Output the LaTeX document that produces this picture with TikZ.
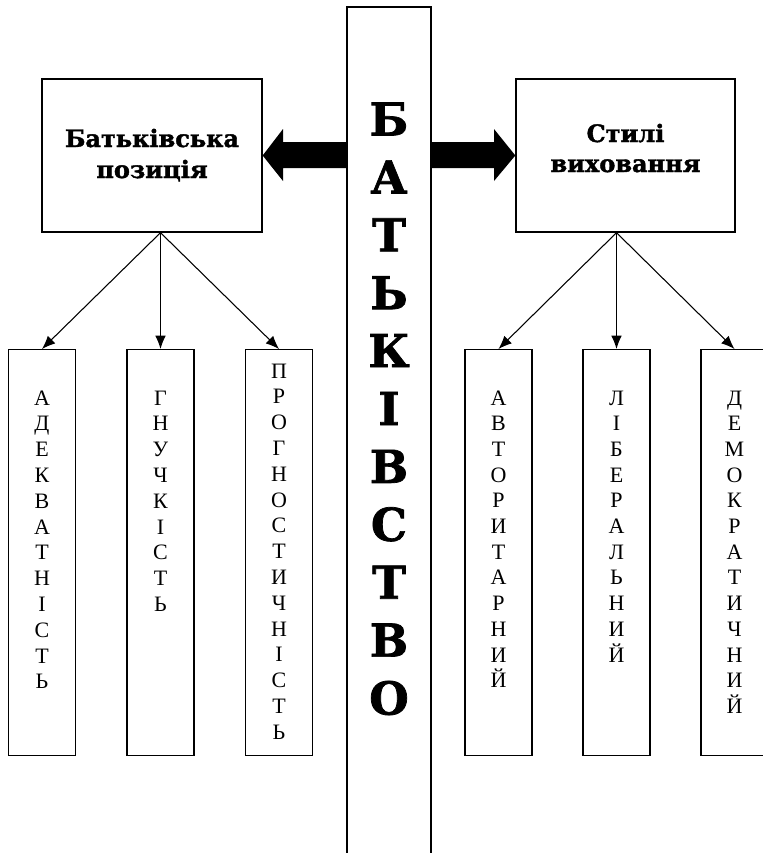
\documentclass[tikz,border=0pt]{standalone}
\usepackage{fontspec}
\setmainfont{Liberation Serif}
\newfontfamily\heavy{DejaVu Serif Bold}[FakeBold=1.6]
\usetikzlibrary{arrows.meta,calc}
\tikzset{
  frame/.style={draw=black,line width=1pt,fill=none},
  letter/.style={font=\fontsize{16.5}{16.5}\selectfont,inner sep=0pt,anchor=base},
  bigletter/.style={font=\heavy\fontsize{34}{34}\selectfont,inner sep=0pt},
  headtext/.style={font=\heavy\fontsize{18}{18}\selectfont,inner sep=0pt,anchor=base},
  branch/.style={line width=0.8pt,-{Latex[length=10pt,width=8pt]}},
  fat/.style={fill=black,draw=none}
}
\begin{document}
\begin{tikzpicture}[x=0.75pt,y=-0.75pt]
\clip (0,0) rectangle (763,853);
\fill[white] (0,0) rectangle (763,853);
% central column
\coordinate (cTL) at (347,7);
\coordinate (cBR) at (431,870);
\draw[frame] (cTL) rectangle (cBR);
\foreach \ch [count=\i from 0] in {Б,А,Т,Ь,К,І,В,С,Т,В,О}{
  \node[bigletter] (c\i) at (389,{119+57.9*\i}) {\ch};
}
% top boxes
\node[frame,minimum width=220*0.75pt,minimum height=153*0.75pt,inner sep=0pt] (L) at (152,155.5) {};
\node[frame,minimum width=219*0.75pt,minimum height=153*0.75pt,inner sep=0pt] (R) at (625.5,155.5) {};
\node[headtext] (Lt1) at (152,147) {Батьківська};
\node[headtext] (Lt2) at (152,178) {позиція};
\node[headtext] (Rt1) at (625.5,142) {Стилі};
\node[headtext] (Rt2) at (625.5,172) {виховання};
% fat arrows
\fill[fat] (L.east) -- (283,129) -- (283,142) -- (cTL |- 0,142) -- (cTL |- 0,168) -- (283,168) -- (283,181) -- cycle;
\fill[fat] (R.west) -- (494,129) -- (494,142) -- (cBR |- 0,142) -- (cBR |- 0,168) -- (494,168) -- (494,181) -- cycle;
% small boxes
\foreach \n/\cx in {m1/42,m2/160.5,m3/279,m4/498.5,m5/616.5,m6/734.5}{
  \node[frame,minimum width=67*0.75pt,minimum height=406*0.75pt,inner sep=0pt,anchor=north] (\n) at (\cx,349) {};
}
% letters in small boxes
\foreach \ch [count=\i] in {А,Д,Е,К,В,А,Т,Н,І,С,Т,Ь}{
  \node[letter] (a\i) at ($(m1.north)+(0,{405-349+25.8*(\i-1)})$) {\ch};}
\foreach \ch [count=\i] in {Г,Н,У,Ч,К,І,С,Т,Ь}{
  \node[letter] (g\i) at ($(m2.north)+(0,{405-349+25.8*(\i-1)})$) {\ch};}
\foreach \ch [count=\i] in {П,Р,О,Г,Н,О,С,Т,И,Ч,Н,І,С,Т,Ь}{
  \node[letter] (p\i) at ($(m3.north)+(0,{378-349+25.8*(\i-1)})$) {\ch};}
\foreach \ch [count=\i] in {А,В,Т,О,Р,И,Т,А,Р,Н,И,Й}{
  \node[letter] (t\i) at ($(m4.north)+(0,{405-349+25.7*(\i-1)})$) {\ch};}
\foreach \ch [count=\i] in {Л,І,Б,Е,Р,А,Л,Ь,Н,И,Й}{
  \node[letter] (b\i) at ($(m5.north)+(0,{405-349+25.7*(\i-1)})$) {\ch};}
\foreach \ch [count=\i] in {Д,Е,М,О,К,Р,А,Т,И,Ч,Н,И,Й}{
  \node[letter] (d\i) at ($(m6.north)+(0,{405-349+25.7*(\i-1)})$) {\ch};}
% branches
\coordinate (Lo) at (L.south -| m2.north);
\coordinate (Ro) at (R.south -| m5.north);
\foreach \t in {m1,m2,m3}{\draw[branch] (Lo) -- (\t.north);}
\foreach \t in {m4,m5,m6}{\draw[branch] (Ro) -- (\t.north);}
\end{tikzpicture}
\end{document}
